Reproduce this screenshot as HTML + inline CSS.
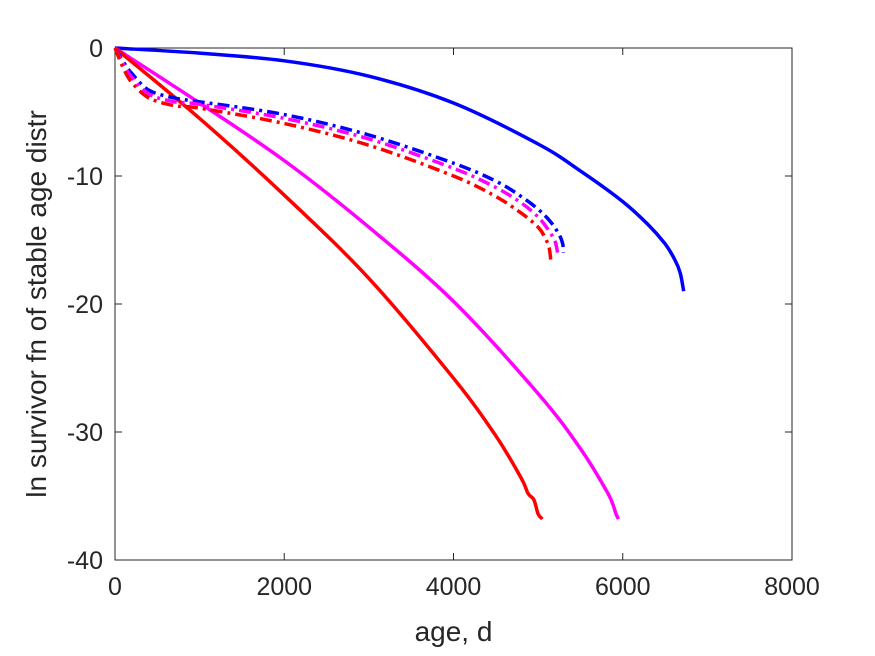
<!DOCTYPE html>
<html><head><meta charset="utf-8"><style>
body{margin:0;background:#fff;}
svg{display:block;font-family:"Liberation Sans",Arial,sans-serif;}
</style></head><body>
<svg id="chart" width="875" height="656">
<rect x="0" y="0" width="875" height="656" fill="#fff"/>
<g id="plot"></g>
</svg>
<script>
const xTicks=[0,2000,4000,6000,8000];
const yTicks=[0,-10,-20,-30,-40];
const blueSolidX=[0,1000,2000,3000,4000,5000,5500,6000,6300,6500,6620,6680,6720];
const blueSolidY=[0,-0.4,-1.0,-2.2,-4.3,-7.5,-9.6,-12,-13.8,-15.3,-16.6,-17.6,-19];
const magSolidX=[0,1000,2000,3000,4000,5000,5500,5800,5880,5920,5950];
const magSolidY=[0,-4.3,-8.8,-14,-19.8,-27,-31.3,-34.5,-35.6,-36.4,-36.8];
const redSolidX=[0,1000,2000,3000,4000,4500,4800,4880,4950,5000,5050];
const redSolidY=[0,-5.5,-11.5,-18,-25.8,-30.3,-33.6,-34.8,-35.3,-36.4,-36.8];
const blueDashX=[0,100,200,400,700,1000,2000,3000,4000,4500,4800,5000,5150,5250,5290,5300];
const blueDashY=[0,-1.1,-2,-3.3,-3.9,-4.2,-5.2,-6.8,-9,-10.4,-11.6,-12.6,-13.6,-14.6,-15.3,-16];
const magDashX=[0,100,200,400,700,1000,2000,3000,4000,4500,4800,5000,5120,5200,5230];
const magDashY=[0,-1.3,-2.3,-3.6,-4.2,-4.4,-5.5,-7.1,-9.4,-10.9,-12.1,-13.2,-14.2,-15.1,-16];
const redDashX=[0,100,200,400,700,1000,2000,3000,4000,4500,4800,5000,5080,5130,5150];
const redDashY=[0,-1.6,-2.7,-3.9,-4.5,-4.7,-5.9,-7.6,-10,-11.6,-12.9,-14,-14.8,-15.6,-16.6];

const X0=115,X1=792,Y0=48,Y1=560;
const sx=v=>X0+(v-0)/8000*(X1-X0);
const sy=v=>Y0+(0-v)/40*(Y1-Y0);
const NS="http://www.w3.org/2000/svg";
const g=document.getElementById('plot');
function mk(t,a){const e=document.createElementNS(NS,t);for(const k in a)e.setAttribute(k,a[k]);g.appendChild(e);return e;}

const frame=mk('rect',{x:X0,y:Y0,width:X1-X0,height:Y1-Y0,fill:'none',stroke:'#262626','stroke-width':1});



xTicks.forEach(t=>{
  const l=mk('line',{x1:sx(t),x2:sx(t),y1:Y1,y2:Y1-7,stroke:'#262626'});
  
  
  const l2=mk('line',{x1:sx(t),x2:sx(t),y1:Y0,y2:Y0+7,stroke:'#262626'});
  
  
  const tx=mk('text',{x:sx(t),y:Y1+35,'text-anchor':'middle','font-size':25,fill:'#262626'});
  tx.textContent=t;
  
  
});
yTicks.forEach(t=>{
  const l=mk('line',{x1:X0,x2:X0+7,y1:sy(t),y2:sy(t),stroke:'#262626'});
  
  
  const l2=mk('line',{x1:X1,x2:X1-7,y1:sy(t),y2:sy(t),stroke:'#262626'});
  
  
  const tx=mk('text',{x:X0-12,y:sy(t)+9,'text-anchor':'end','font-size':25,fill:'#262626'});
  tx.textContent=t;
  
  
});

function series(xs,ys,color,dash,name){
  const P=xs.map((x,i)=>[sx(x),sy(ys[i])]);
  let d='M'+P[0][0].toFixed(1)+','+P[0][1].toFixed(1);
  for(let i=0;i<P.length-1;i++){
    const p0=P[Math.max(0,i-1)],p1=P[i],p2=P[i+1],p3=P[Math.min(P.length-1,i+2)];
    const c1=[p1[0]+(p2[0]-p0[0])/6,p1[1]+(p2[1]-p0[1])/6];
    const c2=[p2[0]-(p3[0]-p1[0])/6,p2[1]-(p3[1]-p1[1])/6];
    d+=' C'+c1[0].toFixed(1)+','+c1[1].toFixed(1)+' '+c2[0].toFixed(1)+','+c2[1].toFixed(1)+' '+p2[0].toFixed(1)+','+p2[1].toFixed(1);
  }
  const p=mk('path',{d:d,fill:'none',stroke:color,'stroke-width':3.5,'stroke-linejoin':'round'});
  if(dash)p.setAttribute('stroke-dasharray','12,5,3,5');
  
  
}
series(blueSolidX,blueSolidY,'#0000ff',false,'blue-solid-line');
series(magSolidX,magSolidY,'#ff00ff',false,'magenta-solid-line');
series(redSolidX,redSolidY,'#ff0000',false,'red-solid-line');
series(blueDashX,blueDashY,'#0000ff',true,'blue-dashdot-line');
series(magDashX,magDashY,'#ff00ff',true,'magenta-dashdot-line');
series(redDashX,redDashY,'#ff0000',true,'red-dashdot-line');

const xl=mk('text',{x:(X0+X1)/2,y:641,'text-anchor':'middle','font-size':28,fill:'#262626'});
xl.textContent='age, d';


const yl=mk('text',{x:0,y:0,'text-anchor':'middle','font-size':28,fill:'#262626',transform:'translate(46,304) rotate(-90)'});
yl.textContent='ln survivor fn of stable age distr';


</script>
</body></html>
